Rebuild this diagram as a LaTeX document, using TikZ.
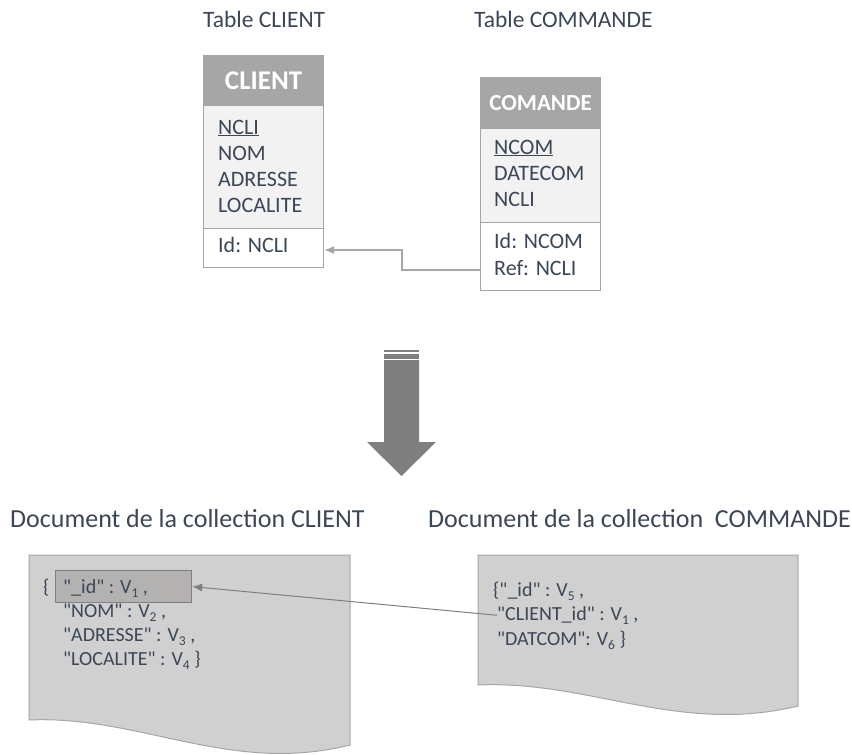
\documentclass[tikz,border=0pt]{standalone}
\usepackage{fontspec}
\setmainfont{Carlito}[Ligatures=TeXOff]
\usetikzlibrary{arrows.meta}
\definecolor{tc}{HTML}{3B4656}
\definecolor{hdrgray}{HTML}{A6A6A6}
\definecolor{bodygray}{HTML}{F2F2F2}
\definecolor{bordergray}{HTML}{A5A5A5}
\definecolor{docgray}{HTML}{D0D0D0}
\definecolor{docborder}{HTML}{A6A6A6}
\definecolor{idbox}{HTML}{B4B1B1}
\definecolor{arrowgray}{HTML}{7F7F7F}
\newcommand{\subv}[1]{\raisebox{-0.22em}{\fontsize{13.5}{13.5}\selectfont #1}}
\newcommand{\dq}{\symbol{34}}
\tikzset{
  x=1pt, y=-1pt,
  titletext/.style={text=tc, font=\fontsize{23.5}{26}\selectfont, inner sep=0pt, anchor=base west},
  captext/.style={text=tc, font=\fontsize{26}{28}\selectfont, inner sep=0pt, anchor=base west},
  hdrbox/.style={fill=hdrgray, draw=bordergray, line width=1.2pt, minimum width=120pt, anchor=north west, inner sep=0pt, text=white},
  bodybox/.style={fill=bodygray, draw=bordergray, line width=1.2pt, minimum width=120pt, anchor=north west, inner sep=0pt},
  idbox/.style={fill=white, draw=bordergray, line width=1.2pt, minimum width=120pt, anchor=north west, inner sep=0pt},
  rowtext/.style={text=tc, font=\fontsize{22}{24}\selectfont, inner sep=0pt, anchor=base west},
  doctext/.style={text=tc, font=\fontsize{20}{22}\selectfont, inner sep=0pt, anchor=base west},
  docshape/.style={fill=docgray, draw=docborder, line width=1pt},
  erarrow/.style={draw=hdrgray, line width=1.2pt, -{Latex[length=10pt,width=8pt]}},
  docarrow/.style={draw=arrowgray, line width=1pt, -{Latex[length=10pt,width=8pt]}},
}
\begin{document}
\begin{tikzpicture}
\useasboundingbox (0,0) rectangle (852,755);

% titles
\node[titletext] (t1) at (203,27) {Table CLIENT};
\node[titletext] (t2) at (474,27) {Table COMMANDE};

% CLIENT table
\node[hdrbox, minimum height=50pt, font=\bfseries\fontsize{27}{28}\selectfont] (chead) at (203,55) {CLIENT};
\node[bodybox, minimum height=123pt] (cbody) at (203,105) {};
\node[idbox, minimum height=39pt] (cid) at (203,228) {};
\node[rowtext] (c1) at (218,134) {\underline{NCLI}};
\node[rowtext] (c2) at (218,160) {NOM};
\node[rowtext] (c3) at (218,186) {ADRESSE};
\node[rowtext] (c4) at (218,212) {LOCALITE};
\node[rowtext] (c5) at (218,252) {Id: NCLI};

% COMANDE table
\node[hdrbox, minimum height=51pt, font=\bfseries\fontsize{23}{26}\selectfont] (mhead) at (480,77) {COMANDE};
\node[bodybox, minimum height=94pt] (mbody) at (480,128) {};
\node[idbox, minimum height=68pt] (mid) at (480,222) {};
\node[rowtext] (m1) at (494,154) {\underline{NCOM}};
\node[rowtext] (m2) at (494,180) {DATECOM};
\node[rowtext] (m3) at (494,206) {NCLI};
\node[rowtext] (m4) at (494,248) {Id: NCOM};
\node[rowtext] (m5) at (494,275) {Ref: NCLI};

% reference arrow
\coordinate (bend1) at (402,270);
\coordinate (bend2) at (402,250);
\draw[erarrow] (mid.west |- bend1) -- (bend1) -- (bend2) -- (cid.east |- bend2);

% big arrow
\fill[arrowgray] (384,349.5) rectangle (419,351.5);
\fill[arrowgray] (384,353.5) rectangle (419,358.5);
\fill[arrowgray] (384,360) -- (419,360) -- (419,442) -- (436,442) -- (401.5,476) -- (367,442) -- (384,442) -- cycle;

% captions
\node[captext] (cap1) at (10,527) {Document de la collection CLIENT};
\node[captext] (cap2) at (428,527) {Document de la collection\ \ COMMANDE};

% documents
\filldraw[docshape] (29,555) -- (350,555) -- (350,745) .. controls (230,775) and (140,715) .. (29,720) -- cycle;
\filldraw[docshape] (478,555) -- (798,555) -- (798,706) .. controls (679,735) and (589,680) .. (478,685) -- cycle;

% left document text
\node[draw=arrowgray, fill=idbox, line width=1.2pt, minimum width=136pt, minimum height=32pt, anchor=north west, inner sep=0pt] (idb) at (55,570) {};
\node[doctext] (l0) at (43,593) {\{};
\node[doctext] (l1) at (63,593) {\dq\_id\dq{} : V\subv{1} ,};
\node[doctext] (l2) at (63,617) {\dq NOM\dq{} : V\subv{2} ,};
\node[doctext] (l3) at (63,641) {\dq ADRESSE\dq{} : V\subv{3} ,};
\node[doctext] (l4) at (63,665) {\dq LOCALITE\dq{} : V\subv{4} \}};

% right document text
\node[doctext] (r1) at (493,596) {\{\dq\_id\dq{} : V\subv{5} ,};
\node[doctext] (r2) at (497,620) {\dq CLIENT\_id\dq{} : V\subv{1} ,};
\node[doctext] (r3) at (497,645) {\dq DATCOM\dq: V\subv{6} \}};

\draw[docarrow] (r2.west) -- (idb.east);
\end{tikzpicture}
\end{document}
